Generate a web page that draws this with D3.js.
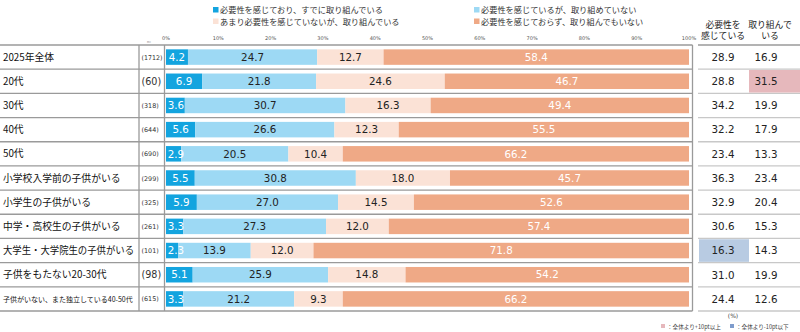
<!DOCTYPE html>
<html>
<head>
<meta charset="utf-8">
<script src="https://cdn.jsdelivr.net/npm/d3@7"></script>
<style>
  body { margin: 0; background: #fff; }
  svg { font-family: "Noto Sans CJK JP", "Noto Sans", sans-serif; }
  .num { font-family: "DejaVu Sans", "Noto Sans CJK JP", sans-serif; }
</style>
</head>
<body>
<svg width="800" height="332"></svg>
<script>
const categories = ['2025年全体', '20代', '30代', '40代', '50代', '小学校入学前の子供がいる', '小学生の子供がいる',
  '中学・高校生の子供がいる', '大学生・大学院生の子供がいる', '子供をもたない20-30代', '子供がいない、また独立している40-50代'];
const sampleSizes = ['(1712)', '(60)', '(318)', '(644)', '(690)', '(299)', '(325)', '(261)', '(101)', '(98)', '(615)'];
const alreadyDoing = [4.2, 6.9, 3.6, 5.6, 2.9, 5.5, 5.9, 3.3, 2.3, 5.1, 3.3];
const wantButNot = [24.7, 21.8, 30.7, 26.6, 20.5, 30.8, 27.0, 27.3, 13.9, 25.9, 21.2];
const noNeedButDoing = [12.7, 24.6, 16.3, 12.3, 10.4, 18.0, 14.5, 12.0, 12.0, 14.8, 9.3];
const noNeedNotDoing = [58.4, 46.7, 49.4, 55.5, 66.2, 45.7, 52.6, 57.4, 71.8, 54.2, 66.2];
const feelNeed = [28.9, 28.8, 34.2, 32.2, 23.4, 36.3, 32.9, 30.6, 16.3, 31.0, 24.4];
const doingIt = [16.9, 31.5, 19.9, 17.9, 13.3, 23.4, 20.4, 15.3, 14.3, 19.9, 12.6];
const seriesNames = ['必要性を感じており、すでに取り組んでいる', '必要性を感じているが、取り組めていない',
  'あまり必要性を感じていないが、取り組んでいる', '必要性を感じておらず、取り組んでもいない'];
const ticks = [0, 10, 20, 30, 40, 50, 60, 70, 80, 90, 100];
// highlight flags: +1 = 10pt above total, -1 = 10pt below
const feelNeedFlag = [0, 0, 0, 0, 0, 0, 0, 0, -1, 0, 0];
const doingItFlag = [0, 1, 0, 0, 0, 0, 0, 0, 0, 0, 0];

const colors = ['#13a4df', '#9dd9f4', '#fbe2d6', '#efa986'];
const textColors = ['#fff', '#222', '#222', '#fff'];
const hiColor = { '1': '#e6b8bc', '-1': '#b8cbe2' };

const svg = d3.select('svg');
const gridTop = 45, gridBottom = 311;
const labelEnd = 139, nEnd = 164.5, barRight = 692.5, tableLeft = 698, tableMid = 749;

const x = d3.scaleLinear().domain([0, 100]).range([166, 689]);
const y = d3.scaleBand().domain(d3.range(categories.length)).range([gridTop, gridBottom]).paddingInner(0);
const barH = 15.5;

function fit(sel, maxW) {
  sel.each(function () {
    const w = this.getComputedTextLength();
    if (w > maxW) d3.select(this).attr('textLength', maxW).attr('lengthAdjust', 'spacingAndGlyphs');
  });
}

const rows = categories.map((c, i) => {
  const vals = [alreadyDoing[i], wantButNot[i], noNeedButDoing[i], noNeedNotDoing[i]];
  let acc = 0;
  return vals.map((v, k) => { const s = { k, x0: acc, x1: acc + v, v }; acc += v; return s; });
});

// legend
const legend = svg.append('g').style('font-size', '8.2px').attr('fill', '#333');
[[213, 10], [474, 10], [213, 21.5], [474, 21.5]].forEach(([lx, ly], k) => {
  legend.append('rect').attr('x', lx).attr('y', ly - 3).attr('width', 5.5).attr('height', 5.5).attr('fill', colors[k]);
  legend.append('text').attr('x', lx + 7).attr('y', ly + 3).text(seriesNames[k]);
});

// axis labels
svg.append('g').attr('class', 'num').selectAll('text').data(ticks).join('text')
  .attr('x', d => x(d)).attr('y', 39.5).attr('text-anchor', 'middle')
  .style('font-size', '5px').attr('fill', '#555').text(d => d + '%');
svg.append('text').attr('x', 149).attr('y', 42.5).attr('text-anchor', 'middle')
  .style('font-size', '3.5px').attr('fill', '#777').text('n=');

// right headers
const colX = [723, 766];
[['必要性を', '感じている'], ['取り組んで', 'いる']].forEach((h, j) => {
  h.forEach((t, r) => {
    svg.append('text').attr('x', j === 0 ? 723 : 770).attr('y', 27.5 + r * 11.5).attr('text-anchor', 'middle')
      .style('font-size', '8.8px').attr('fill', '#222').text(t);
  });
});

// row lines
const lines = svg.append('g').attr('stroke', '#9a9a9a').attr('stroke-width', 1.3);
d3.range(categories.length + 1).forEach(i => {
  const yy = i < categories.length ? y(i) : gridBottom;
  lines.append('line').attr('x1', 0).attr('x2', barRight).attr('y1', yy).attr('y2', yy);
  lines.append('line').attr('x1', tableLeft).attr('x2', 800).attr('y1', yy).attr('y2', yy)
    .attr('stroke', i === 0 ? '#9a9a9a' : '#c8c8c8');
});
[labelEnd, nEnd, barRight].forEach(vx => {
  lines.append('line').attr('x1', vx).attr('x2', vx).attr('y1', gridTop).attr('y2', gridBottom);
});

// table highlights and values
categories.forEach((c, i) => {
  [[feelNeed, feelNeedFlag], [doingIt, doingItFlag]].forEach(([arr, flag], j) => {
    if (flag[i]) {
      svg.append('rect').attr('x', j === 0 ? tableLeft + 1 : tableMid).attr('y', y(i) + 0.8)
        .attr('width', j === 0 ? tableMid - tableLeft - 1 : 800 - tableMid).attr('height', y.bandwidth() - 1.6)
        .attr('fill', hiColor[flag[i]]);
    }
    svg.append('text').attr('class', 'num').attr('x', colX[j]).attr('y', y(i) + y.bandwidth() / 2 + 3.8)
      .attr('text-anchor', 'middle').style('font-size', '10.3px').attr('fill', '#222')
      .text(arr[i].toFixed(1));
  });
});

// labels
const last = categories.length - 1;
svg.append('g').selectAll('text').data(categories).join('text')
  .attr('x', 3).attr('y', (d, i) => y(i) + y.bandwidth() / 2 + (i === last ? 2.8 : 3.6))
  .style('font-size', (d, i) => i === last ? '7px' : '9.8px')
  .attr('fill', '#111').text(d => d)
  .call(fit, 131);

const bigN = i => i === 1 || i === 9;
svg.append('g').attr('class', 'num').selectAll('text').data(sampleSizes).join('text')
  .attr('x', 141.5)
  .attr('y', (d, i) => y(i) + y.bandwidth() / 2 + (bigN(i) ? 3.7 : 2.5))
  .style('font-size', (d, i) => bigN(i) ? '9.6px' : '6.4px')
  .attr('fill', '#333').text(d => d)
  .call(fit, 21);

// bars
const barG = svg.append('g');
rows.forEach((segs, i) => {
  const cy = y(i) + y.bandwidth() / 2;
  const g = barG.append('g');
  g.selectAll('rect').data(segs).join('rect')
    .attr('x', d => x(d.x0)).attr('width', d => x(d.x1) - x(d.x0))
    .attr('y', cy - barH / 2).attr('height', barH)
    .attr('fill', d => colors[d.k]);
  g.selectAll('text').data(segs).join('text')
    .attr('class', 'num')
    .attr('x', d => Math.max((x(d.x0) + x(d.x1)) / 2, x(d.x0) + 10))
    .attr('y', cy + 3.7)
    .attr('text-anchor', 'middle')
    .style('font-size', '10.3px')
    .attr('fill', d => textColors[d.k])
    .text(d => d.v.toFixed(1));
});

// footnotes
svg.append('text').attr('class', 'num').attr('x', 733).attr('y', 318).attr('text-anchor', 'middle')
  .style('font-size', '6px').attr('fill', '#444').text('(%)');
const foot = svg.append('g').style('font-size', '5.6px').attr('fill', '#444');
foot.append('rect').attr('x', 661).attr('y', 324).attr('width', 4).attr('height', 4).attr('fill', hiColor['1']);
foot.append('text').attr('x', 667).attr('y', 328.5).text('：全体より+10pt以上');
foot.append('rect').attr('x', 730).attr('y', 324).attr('width', 4).attr('height', 4).attr('fill', '#7f9ccc');
foot.append('text').attr('x', 736).attr('y', 328.5).text('：全体より-10pt以下');
</script>
</body>
</html>
